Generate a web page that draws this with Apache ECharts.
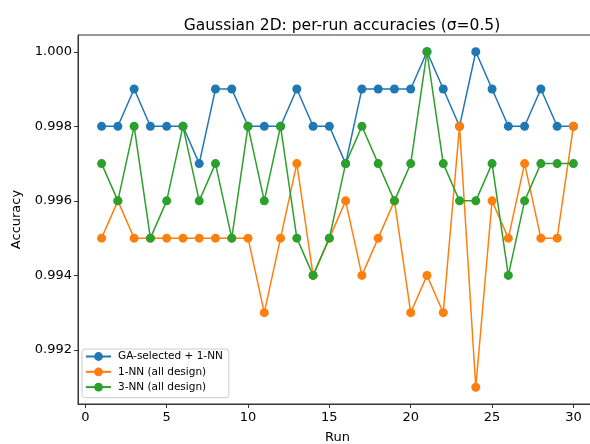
<!DOCTYPE html>
<html><head><meta charset="utf-8">
<script src="https://cdn.jsdelivr.net/npm/echarts@6/dist/echarts.min.js"></script>
<style>html,body{margin:0;padding:0;background:#fff}#c{width:590px;height:444px}</style>
</head><body><div id="c"></div>
<script>
const runs = [1,2,3,4,5,6,7,8,9,10,11,12,13,14,15,16,17,18,19,20,21,22,23,24,25,26,27,28,29,30];
const gaSelected = [0.998,0.998,0.999,0.998,0.998,0.998,0.997,0.999,0.999,0.998,0.998,0.998,0.999,0.998,0.998,0.997,0.999,0.999,0.999,0.999,1.000,0.999,0.998,1.000,0.999,0.998,0.998,0.999,0.998,0.998];
const nn1All = [0.995,0.996,0.995,0.995,0.995,0.995,0.995,0.995,0.995,0.995,0.993,0.995,0.997,0.994,0.995,0.996,0.994,0.995,0.996,0.993,0.994,0.993,0.998,0.991,0.996,0.995,0.997,0.995,0.995,0.998];
const nn3All = [0.997,0.996,0.998,0.995,0.996,0.998,0.996,0.997,0.995,0.998,0.996,0.998,0.995,0.994,0.995,0.997,0.998,0.997,0.996,0.997,1.000,0.997,0.996,0.996,0.997,0.994,0.996,0.997,0.997,0.997];
const xTicks = [0,5,10,15,20,25,30];
const yTicks = [0.992,0.994,0.996,0.998,1.000];
const seriesNames = ['GA-selected + 1-NN','1-NN (all design)','3-NN (all design)'];
const colors = ['#1f77b4','#ff7f0e','#2ca02c'];
const values = [gaSelected, nn1All, nn3All];

const font = 'DejaVu Sans';
const chart = echarts.init(document.getElementById('c'), null, {renderer:'canvas'});
chart.setOption({
  animation:false,
  textStyle:{fontFamily:font},
  title:{text:'Gaussian 2D: per-run accuracies (σ=0.5)', left:337, textAlign:'center', top:13,
    textStyle:{fontFamily:font, fontSize:15.5, fontWeight:'normal', color:'#000'}},
  grid:{left:78, right:-7, top:35, bottom:40, show:true, borderColor:'#333', borderWidth:1,
    backgroundColor:'transparent', outerBoundsMode:'none', containLabel:false},
  legend:{orient:'vertical', left:82, top:349, data:seriesNames, itemWidth:25, itemHeight:11, itemGap:4.3,
    padding:[2,6,5,3], backgroundColor:'rgba(255,255,255,0.8)', borderColor:'#ccc', borderWidth:1, borderRadius:3,
    textStyle:{fontFamily:font, fontSize:10.5, color:'#000', padding:[0,0,0,2]}},
  xAxis:{type:'value', min:-0.45, max:31.45, name:'Run', nameLocation:'middle', nameGap:27,
    nameTextStyle:{fontFamily:font, fontSize:13, color:'#000'},
    axisLine:{show:true, onZero:false, lineStyle:{color:'#333'}},
    axisTick:{show:true, length:4, customValues:xTicks, lineStyle:{color:'#333'}},
    axisLabel:{customValues:xTicks, fontFamily:font, fontSize:13, color:'#000', margin:7},
    splitLine:{show:false}},
  yAxis:{type:'value', min:0.99055, max:1.00045, name:'Accuracy', nameLocation:'middle', nameGap:55,
    nameTextStyle:{fontFamily:font, fontSize:13, color:'#000'},
    axisLine:{show:true, onZero:false, lineStyle:{color:'#333'}},
    axisTick:{show:true, length:4, customValues:yTicks, lineStyle:{color:'#333'}},
    axisLabel:{customValues:yTicks, fontFamily:font, fontSize:13, color:'#000', margin:6,
      formatter:v=>v.toFixed(3)},
    splitLine:{show:false}},
  series: values.map((vals,i)=>({
    name:seriesNames[i], type:'line', data:runs.map((r,j)=>[r,vals[j]]),
    symbol:'circle', symbolSize:9, itemStyle:{color:colors[i]},
    lineStyle:{color:colors[i], width:1.5}, z:2+i
  }))
});
</script></body></html>
